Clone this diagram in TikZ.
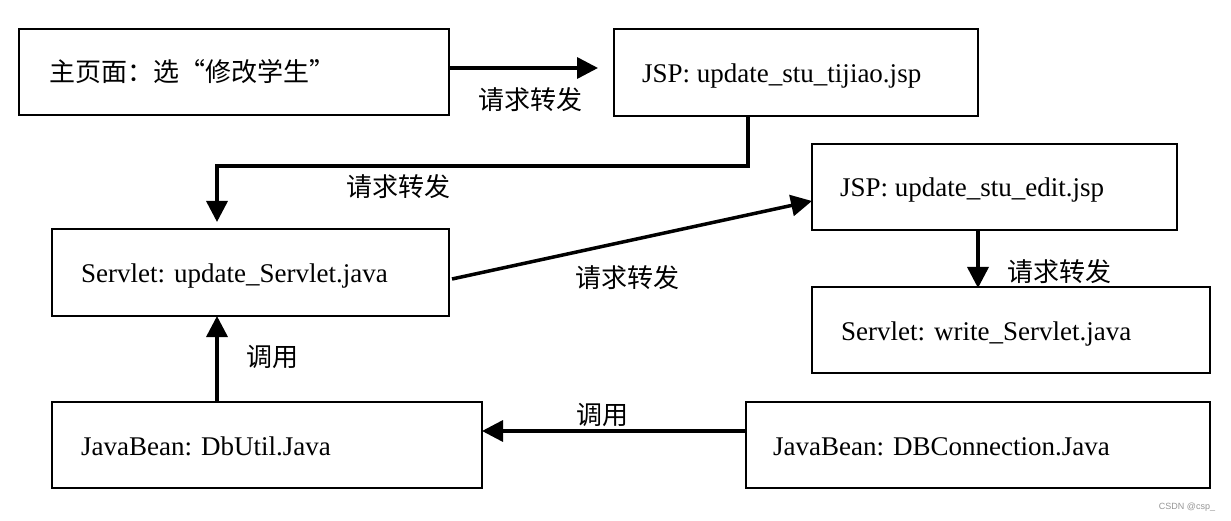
\documentclass[tikz,border=0pt]{standalone}
\usepackage{fontspec}
\setmainfont{Liberation Serif}
\newfontfamily\cjk{Noto Sans CJK SC}
\newfontfamily\wmfont{Liberation Sans}
\usetikzlibrary{arrows.meta}
\definecolor{wmgray}{RGB}{150,150,150}
\begin{document}
\begin{tikzpicture}[x=1pt,y=-1pt,
  box/.style={draw=black, line width=2.5pt, fill=white, inner sep=0pt, outer sep=0pt},
  boxtext/.style={anchor=base west, inner sep=0pt, font=\fontsize{27}{32}\selectfont},
  cjktext/.style={inner sep=0pt, font=\cjk\fontsize{26}{30}\selectfont},
  arr/.style={line width=3.5pt, -{Triangle[length=21pt,width=21pt]}}]
\useasboundingbox[fill=white] (0,0) rectangle (1231,521);

% boxes
\node[box, minimum width=430pt, minimum height=86pt] (home) at (234,72) {};
\node[box, minimum width=364pt, minimum height=87pt] (tijiao) at (796,72.5) {};
\node[box, minimum width=365pt, minimum height=86pt] (edit) at (994.5,187) {};
\node[box, minimum width=397pt, minimum height=87pt] (upd) at (250.5,272.5) {};
\node[box, minimum width=398pt, minimum height=86pt] (write) at (1011,330) {};
\node[box, minimum width=430pt, minimum height=86pt] (dbutil) at (267,445) {};
\node[box, minimum width=464pt, minimum height=86pt] (dbconn) at (978,445) {};

% box texts
\node[boxtext, font=\cjk\fontsize{26}{30}\selectfont] (t1) at ([xshift=30pt,yshift=-10pt]home.west) {主页面：选“修改学生”};
\node[boxtext] (t2) at ([xshift=28pt,yshift=-10pt]tijiao.west) {JSP: update\_stu\_tijiao.jsp};
\node[boxtext] (t3) at ([xshift=28pt,yshift=-10pt]edit.west) {JSP: update\_stu\_edit.jsp};
\node[boxtext] (t4) at ([xshift=29pt,yshift=-10pt]upd.west) {Servlet: update\_Servlet.java};
\node[boxtext] (t5) at ([xshift=29pt,yshift=-10pt]write.west) {Servlet: write\_Servlet.java};
\node[boxtext] (t6) at ([xshift=29pt,yshift=-10pt]dbutil.west) {JavaBean: DbUtil.Java};
\node[boxtext] (t7) at ([xshift=27pt,yshift=-10pt]dbconn.west) {JavaBean: DBConnection.Java};

% connectors
\draw[arr] ([yshift=4pt]home.east) -- ([xshift=-16pt,yshift=4.5pt]tijiao.west);
\draw[arr] ([xshift=-48pt]tijiao.south) -- ++(0,50) -| ([xshift=-33.5pt,yshift=7pt]upd.north);
\draw[arr] ([xshift=3pt,yshift=-6.5pt]upd.east) -- ([yshift=-14pt]edit.west);
\draw[arr] ([xshift=-16.5pt]edit.south) -- ([xshift=-16.5pt,yshift=-1pt]edit.south |- write.north);
\draw[arr] ([xshift=-50pt]dbutil.north) -- ([xshift=-50pt]dbutil.north |- upd.south);
\draw[arr] ([yshift=14pt]dbconn.west) -- ([yshift=14pt]dbutil.east);

% labels
\node[cjktext] (l1) at (530,100) {请求转发};
\node[cjktext] (l2) at (398,187) {请求转发};
\node[cjktext] (l3) at (627,278) {请求转发};
\node[cjktext] (l4) at (1059,272) {请求转发};
\node[cjktext] (l5) at (272,357) {调用};
\node[cjktext] (l6) at (602,415) {调用};

% watermark
\node[inner sep=0pt, text=wmgray, font=\wmfont\fontsize{9}{10}\selectfont] (wm) at (1187,507) {CSDN @csp\_};
\end{tikzpicture}
\end{document}
